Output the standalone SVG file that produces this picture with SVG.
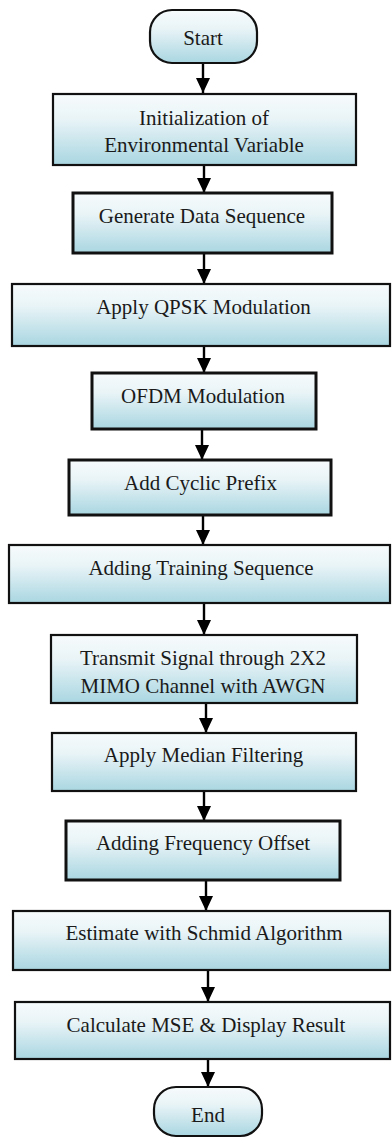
<svg xmlns="http://www.w3.org/2000/svg" width="392" height="1138" viewBox="0 0 392 1138">
  <defs>
    <linearGradient id="fillGrad" x1="0" y1="0" x2="0" y2="1">
      <stop offset="0" stop-color="#f7fbfc"/>
      <stop offset="0.35" stop-color="#e9f4f7"/>
      <stop offset="1" stop-color="#a9d6e1"/>
    </linearGradient>
    <marker id="arrow" viewBox="0 0 15 14" refX="15" refY="7" markerWidth="15" markerHeight="14" markerUnits="userSpaceOnUse" orient="auto">
      <path d="M0,0 L15,7 L0,14 z" fill="#000"/>
    </marker>
  </defs>
  <style>
    .box { fill: url(#fillGrad); stroke: #111; stroke-width: 2.2; }
    .thick { stroke-width: 3; }
    .lbl { font-family: "Liberation Serif", "Times New Roman", serif; font-size: 21px; fill: #1a1a1a; text-anchor: middle; }
    .conn { stroke: #000; stroke-width: 2.4; fill: none; marker-end: url(#arrow); }
  </style>

  <g id="connectors">
    <line class="conn" x1="203" y1="63" x2="203" y2="93"/>
    <line class="conn" x1="204" y1="165" x2="204" y2="193"/>
    <line class="conn" x1="204" y1="253" x2="204" y2="284"/>
    <line class="conn" x1="204" y1="346" x2="204" y2="373"/>
    <line class="conn" x1="202" y1="429" x2="202" y2="460"/>
    <line class="conn" x1="203" y1="515" x2="203" y2="545"/>
    <line class="conn" x1="204" y1="603" x2="204" y2="635"/>
    <line class="conn" x1="206" y1="703" x2="206" y2="733"/>
    <line class="conn" x1="204" y1="791" x2="204" y2="821"/>
    <line class="conn" x1="206" y1="880" x2="206" y2="911"/>
    <line class="conn" x1="208" y1="970" x2="208" y2="1002"/>
    <line class="conn" x1="208" y1="1059" x2="208" y2="1087"/>
  </g>

  <g id="start">
    <rect class="box" x="150" y="10" width="107" height="53" rx="22"/>
    <text class="lbl" x="203" y="45">Start</text>
  </g>
  <g id="init">
    <rect class="box" x="53" y="94" width="303" height="71"/>
    <text class="lbl" x="204" y="125">Initialization of</text>
    <text class="lbl" x="204" y="152">Environmental Variable</text>
  </g>
  <g id="generate">
    <rect class="box thick" x="73" y="193" width="259" height="60"/>
    <text class="lbl" x="202" y="223">Generate Data Sequence</text>
  </g>
  <g id="qpsk">
    <rect class="box" x="12" y="284" width="378" height="62"/>
    <text class="lbl" x="203.5" y="314">Apply QPSK Modulation</text>
  </g>
  <g id="ofdm">
    <rect class="box thick" x="92" y="373" width="224" height="56"/>
    <text class="lbl" x="203" y="403">OFDM Modulation</text>
  </g>
  <g id="cyclic">
    <rect class="box thick" x="69" y="460" width="262" height="55"/>
    <text class="lbl" x="200.5" y="490">Add Cyclic Prefix</text>
  </g>
  <g id="training">
    <rect class="box" x="9" y="545" width="381" height="58"/>
    <text class="lbl" x="201" y="575">Adding Training Sequence</text>
  </g>
  <g id="transmit">
    <rect class="box" x="51" y="635" width="306" height="68"/>
    <text class="lbl" x="203" y="665">Transmit Signal through 2X2</text>
    <text class="lbl" x="203" y="693">MIMO Channel with AWGN</text>
  </g>
  <g id="median">
    <rect class="box" x="52" y="733" width="304" height="58"/>
    <text class="lbl" x="203.5" y="762">Apply Median Filtering</text>
  </g>
  <g id="freq">
    <rect class="box thick" x="66" y="821" width="274" height="59"/>
    <text class="lbl" x="203" y="850">Adding Frequency Offset</text>
  </g>
  <g id="estimate">
    <rect class="box" x="13" y="911" width="377" height="59"/>
    <text class="lbl" x="204" y="940">Estimate with Schmid Algorithm</text>
  </g>
  <g id="calculate">
    <rect class="box" x="15" y="1002" width="375" height="57"/>
    <text class="lbl" x="206" y="1032">Calculate MSE &amp; Display Result</text>
  </g>
  <g id="end">
    <rect class="box" x="154" y="1087" width="108" height="49" rx="22"/>
    <text class="lbl" x="208" y="1122">End</text>
  </g>
</svg>
